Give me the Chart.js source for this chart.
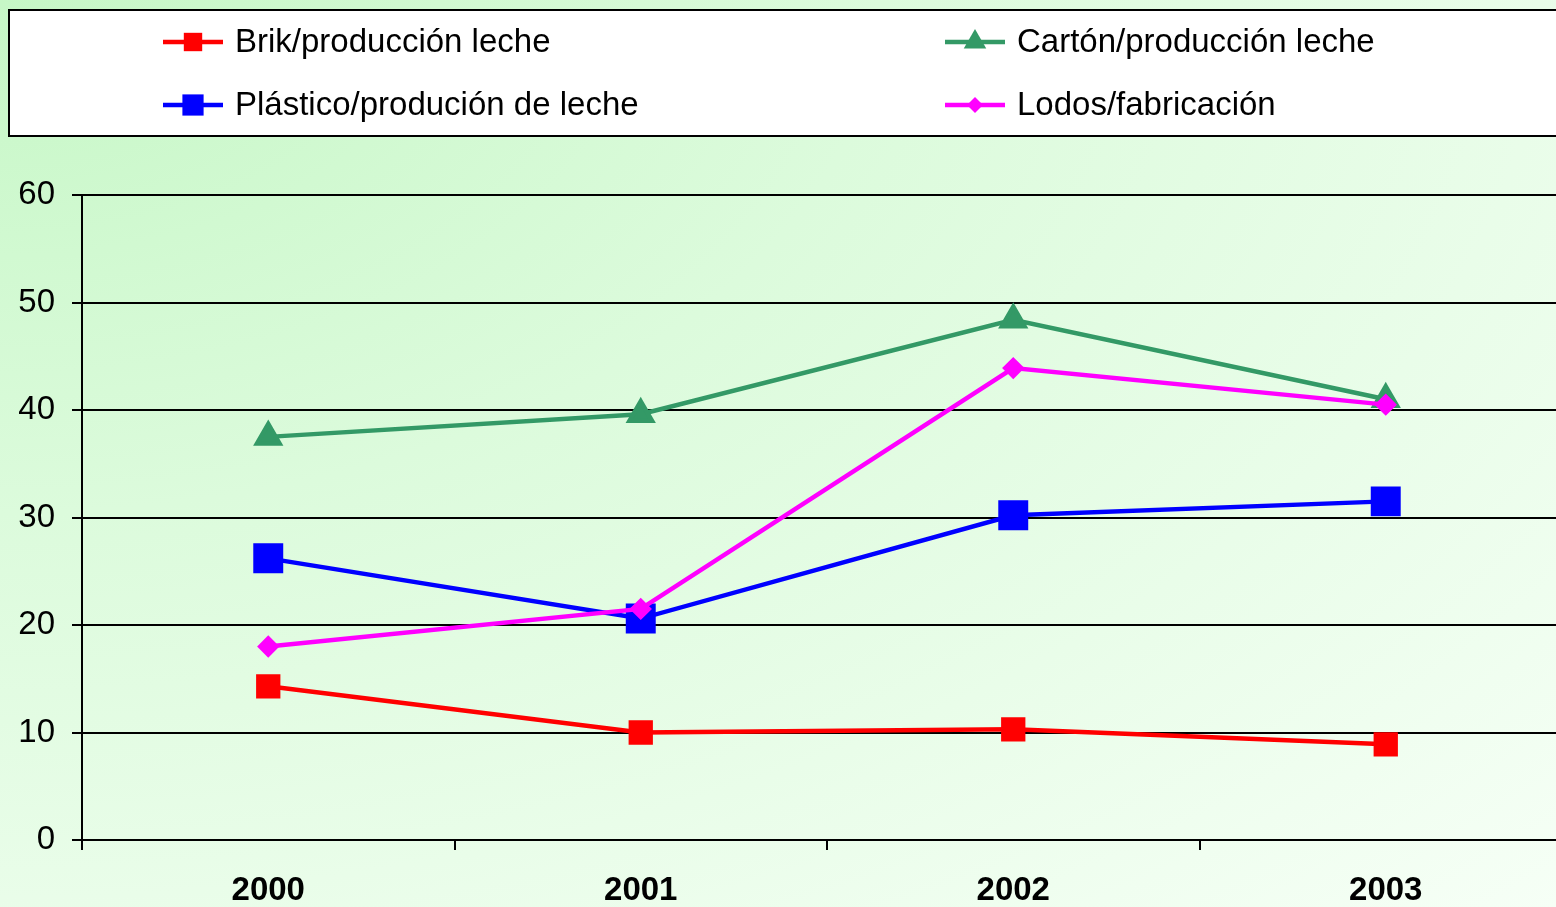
<!DOCTYPE html>
<html>
<head>
<meta charset="utf-8">
<script src="https://cdn.jsdelivr.net/npm/chart.js@4/dist/chart.umd.min.js"></script>
<style>
  html, body {
    margin: 0;
    padding: 0;
    width: 1556px;
    height: 907px;
    overflow: hidden;
    background: radial-gradient(ellipse farthest-corner at 0 0, #c6f7c6 0%, #dcfbdc 40%, #f6fff6 100%);
  }
  canvas { display: block; }
</style>
</head>
<body>
<canvas id="myChart" width="1580" height="907"></canvas>
<script>
const years = ['2000', '2001', '2002', '2003'];
const brik = [14.3, 10.0, 10.3, 8.9];
const carton = [37.5, 39.6, 48.4, 41.0];
const plastico = [26.2, 20.6, 30.2, 31.5];
const lodos = [18.0, 21.5, 43.9, 40.5];
const yTicks = [0, 10, 20, 30, 40, 50, 60];

const FONT = "'Liberation Sans', Arial, sans-serif";

// dibuja un marcador igual que los puntos de Chart.js
function drawMarker(ctx, style, r, x, y) {
    ctx.beginPath();
    if (style === 'rect') {
        const s = r * Math.SQRT1_2;
        ctx.rect(x - s, y - s, 2 * s, 2 * s);
    } else if (style === 'triangle') {
        let a = 0;
        ctx.moveTo(x + Math.sin(a) * r, y - Math.cos(a) * r);
        a += Math.PI * 2 / 3;
        ctx.lineTo(x + Math.sin(a) * r, y - Math.cos(a) * r);
        a += Math.PI * 2 / 3;
        ctx.lineTo(x + Math.sin(a) * r, y - Math.cos(a) * r);
        ctx.closePath();
    } else {
        ctx.moveTo(x - r, y);
        ctx.lineTo(x, y - r);
        ctx.lineTo(x + r, y);
        ctx.lineTo(x, y + r);
        ctx.closePath();
    }
    ctx.fill();
}

// leyenda en dos columnas dentro de un recuadro blanco
const legendBox = {
    id: 'legendBox',
    afterDraw(chart) {
        const ctx = chart.ctx;
        ctx.save();
        ctx.fillStyle = '#ffffff';
        ctx.fillRect(9, 10, 1600, 126);
        ctx.strokeStyle = '#000000';
        ctx.lineWidth = 2;
        ctx.strokeRect(9, 10, 1600, 126);

        const slots = [[163, 42], [945, 42], [163, 105], [945, 105]];
        chart.data.datasets.forEach((ds, i) => {
            const [x, y] = slots[i];
            ctx.strokeStyle = ds.borderColor;
            ctx.lineWidth = 4.5;
            ctx.beginPath();
            ctx.moveTo(x, y);
            ctx.lineTo(x + 60, y);
            ctx.stroke();
            ctx.fillStyle = ds.backgroundColor;
            drawMarker(ctx, ds.pointStyle, ds.legendRadius, x + 30, y);

            ctx.fillStyle = '#000000';
            ctx.font = '33px ' + FONT;
            ctx.textAlign = 'left';
            ctx.textBaseline = 'middle';
            ctx.fillText(ds.label, x + 72, y + 1);
        });
        ctx.restore();
    }
};

document.addEventListener('DOMContentLoaded', () => {
    const ctx = document.getElementById('myChart').getContext('2d');

    new Chart(ctx, {
        type: 'line',
        data: {
            labels: years,
            datasets: [{
                label: 'Brik/producción leche',
                data: brik,
                borderColor: '#ff0000',
                backgroundColor: '#ff0000',
                pointStyle: 'rect',
                pointRadius: 14,
                legendRadius: 13,
                borderWidth: 4.5,
                order: 4
            }, {
                label: 'Cartón/producción leche',
                data: carton,
                borderColor: '#339966',
                backgroundColor: '#339966',
                pointStyle: 'triangle',
                pointRadius: 13,
                legendRadius: 13,
                borderWidth: 4.5,
                order: 3
            }, {
                label: 'Plástico/produción de leche',
                data: plastico,
                borderColor: '#0000ff',
                backgroundColor: '#0000ff',
                pointStyle: 'rect',
                pointRadius: 18,
                legendRadius: 15,
                borderWidth: 4.5,
                order: 2
            }, {
                label: 'Lodos/fabricación',
                data: lodos,
                borderColor: '#ff00ff',
                backgroundColor: '#ff00ff',
                pointStyle: 'rectRot',
                pointRadius: 8,
                legendRadius: 8,
                borderWidth: 4.5,
                order: 1
            }]
        },
        options: {
            responsive: false,
            animation: false,
            layout: {
                autoPadding: false,
                padding: { top: 195, right: 8, bottom: 0, left: 0 }
            },
            elements: {
                line: { tension: 0 },
                point: { borderWidth: 0, hoverRadius: 0 }
            },
            plugins: {
                legend: { display: false },
                tooltip: { enabled: false }
            },
            scales: {
                x: {
                    offset: true,
                    grid: {
                        offset: true,
                        drawOnChartArea: false,
                        drawTicks: true,
                        tickLength: 10,
                        color: '#000000',
                        lineWidth: 2
                    },
                    border: { color: '#000000', width: 2 },
                    ticks: {
                        font: { family: FONT, size: 33, weight: 'bold' },
                        color: '#000000',
                        padding: 21,
                        maxRotation: 0
                    },
                    afterFit(scale) { scale.height = 67; }
                },
                y: {
                    min: 0,
                    max: 60,
                    afterBuildTicks(scale) {
                        scale.ticks = yTicks.map(v => ({ value: v }));
                    },
                    grid: {
                        color: '#000000',
                        lineWidth: 2,
                        tickLength: 10
                    },
                    border: { color: '#000000', width: 2 },
                    ticks: {
                        font: { family: FONT, size: 33 },
                        color: '#000000',
                        padding: 17
                    },
                    afterFit(scale) { scale.width = 82; }
                }
            }
        },
        plugins: [legendBox]
    });
});
</script>
</body>
</html>
